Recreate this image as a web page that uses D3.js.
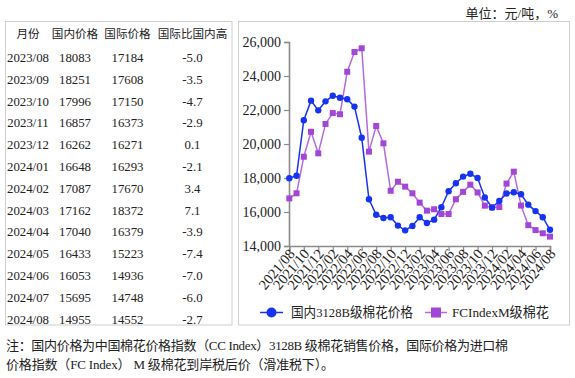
<!DOCTYPE html>
<html><head><meta charset="utf-8">
<script src="https://cdn.jsdelivr.net/npm/d3@7"></script>
<style>
html,body{margin:0;padding:0;background:#fff;}
svg{display:block;}
</style></head>
<body>
<svg id="c" width="575" height="378"></svg>
<script>
// ---- data ----
const months = [];
for (let i = 0; i < 37; i++) {
  const y = 2021 + Math.floor((7 + i) / 12);
  const m = ((7 + i) % 12) + 1;
  months.push(y + "/" + String(m).padStart(2, "0"));
}
const domestic = [17982, 18130, 21400, 22550, 21980, 22510, 22840, 22720, 22630, 22200, 20370, 16750, 15840, 15650, 15690, 15200, 14920, 15180, 15690, 15350, 15550, 16280, 17220, 17690, 18083, 18251, 17996, 16857, 16262, 16648, 17087, 17162, 17040, 16433, 16053, 15695, 14955];
const intl = [16800, 17100, 19250, 20720, 19450, 21180, 21820, 21750, 24250, 25410, 25630, 19550, 21060, 20040, 17250, 17780, 17490, 17100, 16550, 16080, 16160, 15880, 15880, 16750, 17184, 17608, 17150, 16373, 16271, 16293, 17670, 18372, 16379, 15223, 14936, 14748, 14552];
const yTicks = [14000, 16000, 18000, 20000, 22000, 24000, 26000];
const tableHeader = ["月份", "国内价格", "国际价格", "国际比国内高"];
const tableMonths = ["2023/08","2023/09","2023/10","2023/11","2023/12","2024/01","2024/02","2024/03","2024/04","2024/05","2024/06","2024/07","2024/08"];
const tableDom = ["18083","18251","17996","16857","16262","16648","17087","17162","17040","16433","16053","15695","14955"];
const tableIntl = ["17184","17608","17150","16373","16271","16293","17670","18372","16379","15223","14936","14748","14552"];
const tableDiff = ["-5.0","-3.5","-4.7","-2.9","0.1","-2.1","3.4","7.1","-3.9","-7.4","-7.0","-6.0","-2.7"];
const seriesNames = ["国内3128B级棉花价格", "FCIndexM级棉花"];
const unitText = "单位：元/吨，%";
const note1 = "注：国内价格为中国棉花价格指数（CC Index）3128B 级棉花销售价格，国际价格为进口棉";
const note2 = "价格指数（FC Index） M 级棉花到岸税后价（滑准税下）。";

const serif = "'Liberation Serif','Times New Roman',serif";
const mixed = "'Liberation Serif','Noto Sans CJK SC',serif";
const cjk = "'Noto Sans CJK SC',sans-serif";
const blue = "#1633f0", purpleLine = "#b46be0", purple = "#a246d8";

const svg = d3.select("#c");

// unit
svg.append("text").attr("x", 558).attr("y", 13).attr("dy", "0.35em").attr("text-anchor", "end")
  .attr("font-family", mixed).attr("font-size", 13).attr("fill", "#222").text(unitText);

// boxes
svg.append("rect").attr("x", 5.5).attr("y", 21.5).attr("width", 226.5).attr("height", 303.5)
  .attr("fill", "none").attr("stroke", "#cfcfcf").attr("stroke-width", 1);
svg.append("rect").attr("x", 238.5).attr("y", 21.5).attr("width", 331).attr("height", 303.5)
  .attr("fill", "none").attr("stroke", "#cfcfcf").attr("stroke-width", 1);

// table
const colX = [28, 75, 127.5, 192.5];
const rowY = i => 57.5 + i * 21.8;
tableHeader.forEach((h, j) => {
  svg.append("text").attr("x", colX[j]).attr("y", 33.5).attr("dy", "0.35em")
    .attr("text-anchor", "middle").attr("font-family", cjk).attr("font-size", 11.6)
    .attr("fill", "#222").text(h);
});
const cols = [tableMonths, tableDom, tableIntl, tableDiff];
cols.forEach((col, j) => {
  svg.append("g").selectAll("text").data(col).join("text")
    .attr("x", colX[j]).attr("y", (d, i) => rowY(i)).attr("dy", "0.35em")
    .attr("text-anchor", "middle").attr("font-family", serif).attr("font-size", 12.8)
    .attr("fill", "#222").text(d => d);
});

// chart scales
const x = d3.scaleLinear().domain([0, months.length - 1]).range([289.3, 550]);
const y = d3.scaleLinear().domain([14000, 26000]).range([246, 42]);

// y axis
const yAxis = svg.append("g").attr("transform", "translate(289,0)")
  .call(d3.axisLeft(y).tickValues(yTicks).tickFormat(d3.format(",")).tickSizeOuter(0).tickSize(5).tickPadding(3));
yAxis.select(".domain").attr("stroke", "#8a8a8a").attr("stroke-width", 1.6);
yAxis.selectAll(".tick line").attr("stroke", "#8a8a8a").attr("stroke-width", 1.2);
yAxis.selectAll("text").attr("font-family", serif).attr("font-size", 14).attr("fill", "#222");

// x axis
const xIdx = d3.range(0, months.length, 2);
const xAxis = svg.append("g").attr("transform", "translate(0,246)")
  .call(d3.axisBottom(x).tickValues(xIdx).tickFormat(i => months[i]).tickSizeOuter(0).tickSize(5));
xAxis.select(".domain").attr("stroke", "#8a8a8a").attr("stroke-width", 1.6);
xAxis.selectAll(".tick line").attr("stroke", "#8a8a8a").attr("stroke-width", 1.2);
xAxis.selectAll("text").attr("font-family", serif).attr("font-size", 14.5).attr("fill", "#222")
  .attr("text-anchor", "end").attr("dy", "0.35em")
  .attr("transform", "translate(2,5) rotate(-50)").attr("x", 0).attr("y", 0);

// lines
const line = d3.line().x((d, i) => x(i)).y(d => y(d));
svg.append("path").datum(intl).attr("d", line).attr("fill", "none")
  .attr("stroke", purpleLine).attr("stroke-width", 1.5);
svg.append("path").datum(domestic).attr("d", line).attr("fill", "none")
  .attr("stroke", blue).attr("stroke-width", 1.5);
svg.append("g").selectAll("rect").data(intl).join("rect")
  .attr("x", (d, i) => x(i) - 3).attr("y", d => y(d) - 3).attr("width", 6).attr("height", 6)
  .attr("fill", purple);
svg.append("g").selectAll("circle").data(domestic).join("circle")
  .attr("cx", (d, i) => x(i)).attr("cy", d => y(d)).attr("r", 3.2).attr("fill", blue);

// legend
const lg = svg.append("g");
lg.append("line").attr("x1", 260).attr("x2", 283).attr("y1", 312.5).attr("y2", 312.5).attr("stroke", blue).attr("stroke-width", 1.5);
lg.append("circle").attr("cx", 271.5).attr("cy", 312.5).attr("r", 5).attr("fill", blue);
lg.append("text").attr("x", 291).attr("y", 312.5).attr("dy", "0.35em").attr("font-family", mixed)
  .attr("font-size", 13.5).attr("fill", "#222").attr("textLength", 122).attr("lengthAdjust", "spacingAndGlyphs").text(seriesNames[0]);
lg.append("line").attr("x1", 425).attr("x2", 447).attr("y1", 312.5).attr("y2", 312.5).attr("stroke", purpleLine).attr("stroke-width", 1.5);
lg.append("rect").attr("x", 431).attr("y", 307.5).attr("width", 10).attr("height", 10).attr("fill", purple);
lg.append("text").attr("x", 452).attr("y", 312.5).attr("dy", "0.35em").attr("font-family", mixed)
  .attr("font-size", 13.5).attr("fill", "#222").attr("textLength", 97).attr("lengthAdjust", "spacingAndGlyphs").text(seriesNames[1]);

// note
svg.append("text").attr("x", 6).attr("y", 345).attr("dy", "0.35em").attr("font-family", mixed)
  .attr("font-size", 13).attr("fill", "#222").attr("textLength", 502).attr("lengthAdjust", "spacing").text(note1);
svg.append("text").attr("x", 6).attr("y", 364.5).attr("dy", "0.35em").attr("font-family", mixed)
  .attr("font-size", 13).attr("fill", "#222").attr("textLength", 328).attr("lengthAdjust", "spacing").text(note2);
</script>
</body></html>
